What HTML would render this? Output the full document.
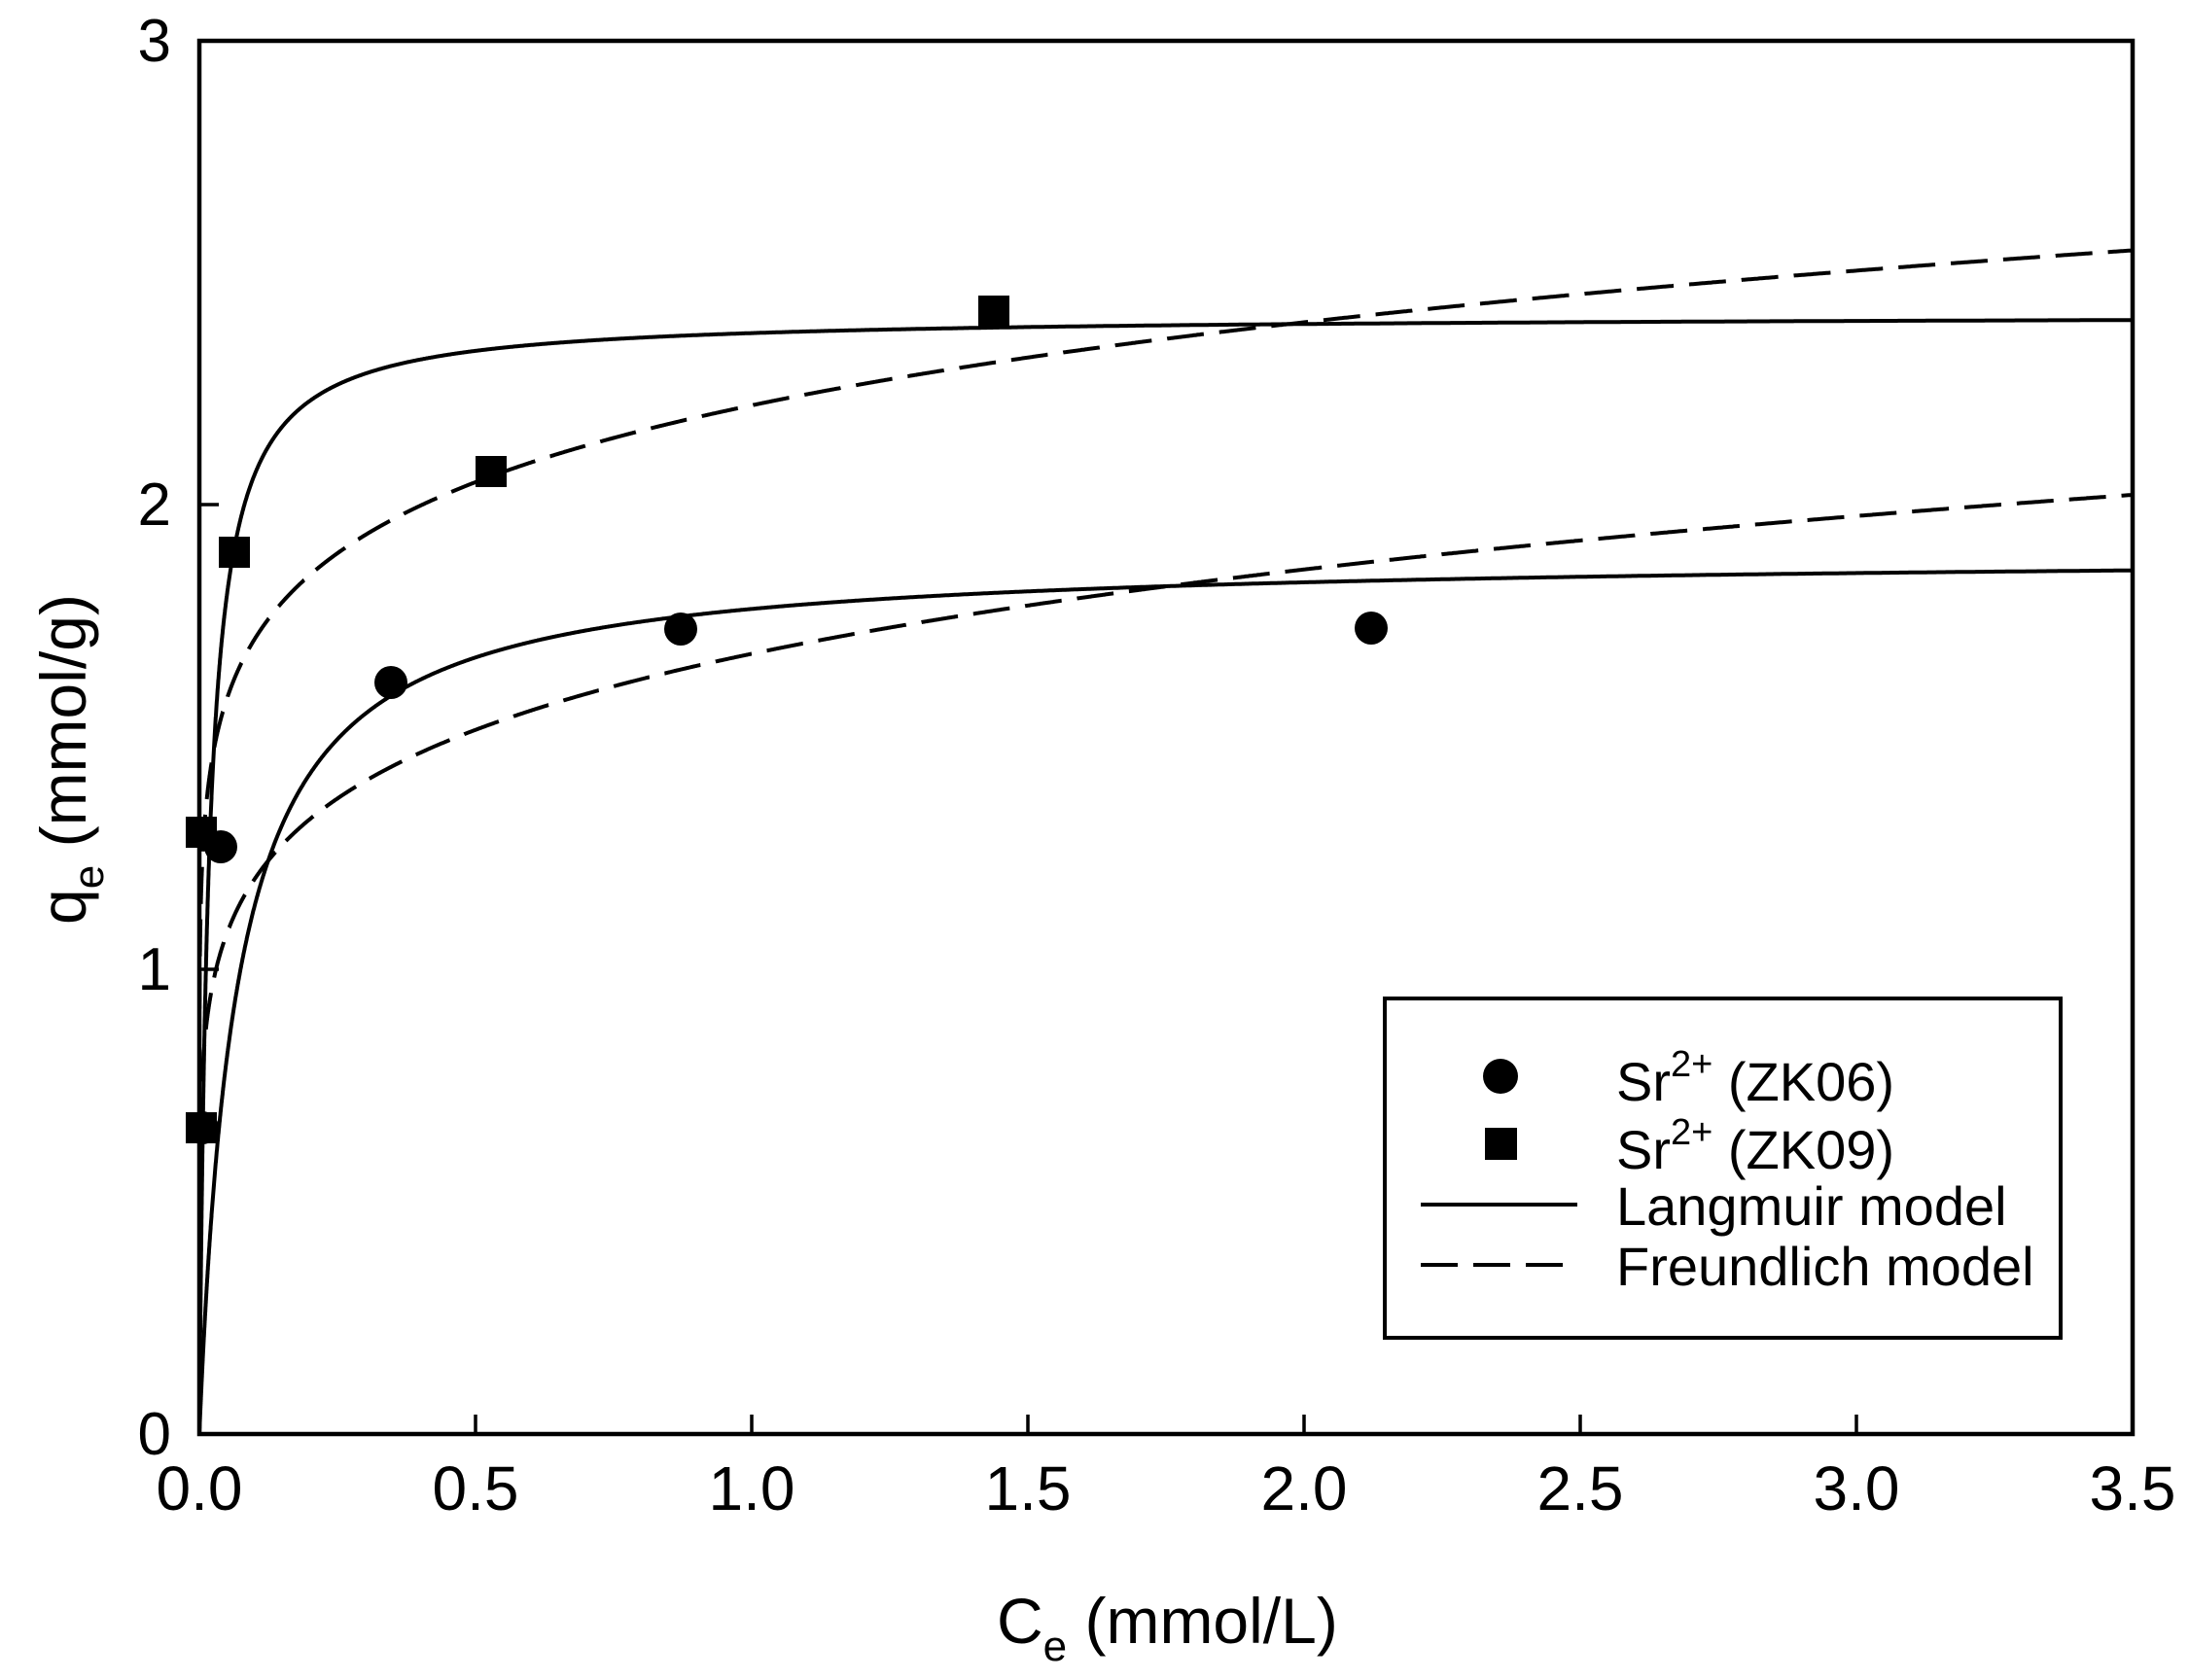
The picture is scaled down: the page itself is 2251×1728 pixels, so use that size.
<!DOCTYPE html>
<html><head><meta charset="utf-8"><style>
html,body{margin:0;padding:0;background:#fff;}
svg{display:block;}
text{font-family:"Liberation Sans",Arial,sans-serif;fill:#000;}
</style></head><body>
<svg id="s" width="2251" height="1728" viewBox="0 0 2251 1728" xmlns="http://www.w3.org/2000/svg">
<rect width="2251" height="1728" fill="#fff"/>
<g id="curves" fill="none" stroke="#000" stroke-width="4"></g>
<rect x="205" y="42" width="1988" height="1433" fill="none" stroke="#000" stroke-width="4.5"/>
<g stroke="#000" stroke-width="3.5">
<line x1="205" y1="997" x2="225" y2="997"/>
<line x1="205" y1="519" x2="225" y2="519"/>
<line x1="489" y1="1475" x2="489" y2="1455"/>
<line x1="773" y1="1475" x2="773" y2="1455"/>
<line x1="1057" y1="1475" x2="1057" y2="1455"/>
<line x1="1341" y1="1475" x2="1341" y2="1455"/>
<line x1="1625" y1="1475" x2="1625" y2="1455"/>
<line x1="1909" y1="1475" x2="1909" y2="1455"/>
</g>
<g font-size="62" text-anchor="end">
<text x="176" y="1496">0</text>
<text x="176" y="1018">1</text>
<text x="176" y="540">2</text>
<text x="176" y="63">3</text>
</g>
<g font-size="64" text-anchor="middle">
<text x="205" y="1553">0.0</text>
<text x="489" y="1553">0.5</text>
<text x="773" y="1553">1.0</text>
<text x="1057" y="1553">1.5</text>
<text x="1341" y="1553">2.0</text>
<text x="1625" y="1553">2.5</text>
<text x="1909" y="1553">3.0</text>
<text x="2193" y="1553">3.5</text>
</g>
<text x="1025" y="1690" font-size="66">C<tspan font-size="44" dy="18">e</tspan><tspan dy="-18"> (mmol/L)</tspan></text>
<text transform="translate(88,781) rotate(-90)" text-anchor="middle" font-size="66">q<tspan font-size="44" dy="18">e</tspan><tspan dy="-18"> (mmol/g)</tspan></text>
<g fill="#000">
<circle cx="208" cy="1160" r="17"/>
<circle cx="227" cy="871" r="17"/>
<circle cx="402" cy="702" r="17"/>
<circle cx="700" cy="647" r="17"/>
<circle cx="1410" cy="646" r="17"/>
<rect x="191" y="1144" width="32" height="32"/>
<rect x="191" y="840" width="32" height="32"/>
<rect x="225" y="552" width="32" height="32"/>
<rect x="489" y="469" width="32" height="32"/>
<rect x="1006" y="304" width="32" height="32"/>
</g>
<rect x="1424" y="1027" width="695" height="349" fill="#fff" stroke="#000" stroke-width="4"/>
<circle cx="1543" cy="1107" r="18" fill="#000"/>
<rect x="1527" y="1160" width="33" height="33" fill="#000"/>
<line x1="1461" y1="1239" x2="1622" y2="1239" stroke="#000" stroke-width="4"/>
<line x1="1461" y1="1301" x2="1622" y2="1301" stroke="#000" stroke-width="4" stroke-dasharray="38 16"/>
<g font-size="56">
<text x="1662" y="1132">Sr<tspan font-size="38" dy="-25">2+</tspan><tspan dy="25"> (ZK06)</tspan></text>
<text x="1662" y="1202">Sr<tspan font-size="38" dy="-25">2+</tspan><tspan dy="25"> (ZK09)</tspan></text>
<text x="1662" y="1260">Langmuir model</text>
<text x="1662" y="1322">Freundlich model</text>
</g>
<script>
(function(){
var g=document.getElementById('curves');
function px(x){return 205+x*568;}
function py(y){return 1475-y*477.7;}
function path(f,dash){
 var d='';var n=0;
 for(var i=0;i<=3000;i++){
  var x=3.5*Math.pow(i/3000,2.2); if(x<=0)x=1e-6;
  var y=f(x); if(y>3)continue;
  d+=(n?'L':'M')+px(x).toFixed(1)+','+py(y).toFixed(1);n++;
 }
 var p=document.createElementNS('http://www.w3.org/2000/svg','path');
 p.setAttribute('d',d);
 if(dash)p.setAttribute('stroke-dasharray','38 16');
 g.appendChild(p);
}
path(function(x){return 2.41*60*x/(1+60*x);},false);
path(function(x){return 1.895*15*x/(1+15*x);},false);
path(function(x){return 2.215*Math.pow(x,0.112);},true);
path(function(x){return 1.68*Math.pow(x,0.148);},true);
})();
</script>
</svg>
</body></html>
